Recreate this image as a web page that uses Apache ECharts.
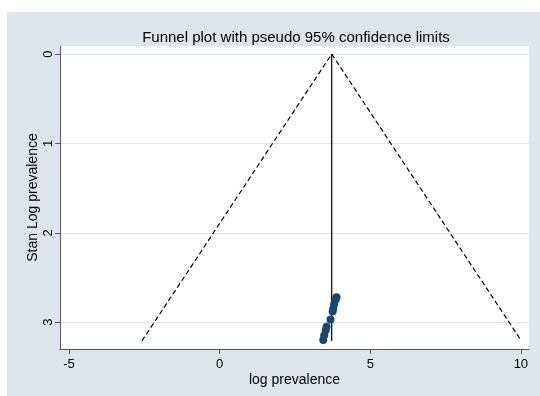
<!DOCTYPE html>
<html>
<head>
<meta charset="utf-8">
<script src="https://cdn.jsdelivr.net/npm/echarts@6/dist/echarts.min.js"></script>
<style>
  html, body { margin: 0; padding: 0; background: #fff; }
  #chart { width: 540px; height: 396px; }
</style>
</head>
<body>
<div id="chart"></div>
<script>
// studies: log prevalence (x) vs standard error (y)
var logPrev = [3.88, 3.85, 3.80, 3.77, 3.75, 3.68, 3.55, 3.52, 3.47, 3.44];
var stanLog = [2.72, 2.75, 2.80, 2.85, 2.88, 2.97, 3.05, 3.09, 3.15, 3.20];

// pooled estimate and pseudo 95% limits
var pooled = 3.72;
var funnelX = [-2.58, 3.72, 10.02];
var funnelY = [3.21, 0, 3.21];
var centreY = [0, 3.21];

var xTicks = [-5, 0, 5, 10];
var yTicks = [0, 1, 2, 3];

var points = logPrev.map(function (v, i) { return [v, stanLog[i]]; });
var funnel = funnelX.map(function (v, i) { return [v, funnelY[i]]; });
var centre = centreY.map(function (v) { return [pooled, v]; });

var chart = echarts.init(document.getElementById('chart'));
var font = 'Liberation Sans, Arial, sans-serif';

var option = {
    animation: false,
    textStyle: { fontFamily: font },
    graphic: [{
        type: 'rect',
        left: 7, top: 12,
        shape: { width: 533, height: 384 },
        style: { fill: '#dfe6eb' },
        z: -10
    }],
    title: {
        text: 'Funnel plot with pseudo 95% confidence limits',
        left: 291, top: 25,
        textAlign: 'center',
        textStyle: { fontFamily: font, fontSize: 15, fontWeight: 'normal', color: '#000' }
    },
    grid: {
        left: 60, right: 11, top: 46, bottom: 47,
        show: true, backgroundColor: '#fff', borderWidth: 0
    },
    xAxis: {
        type: 'value',
        min: -5.3, max: 10.27,
        name: 'log prevalence',
        nameLocation: 'middle',
        nameGap: 24,
        nameMoveOverlap: false,
        nameTextStyle: { fontFamily: font, fontSize: 14, color: '#000' },
        axisLine: { show: true, onZero: false, lineStyle: { color: '#555', width: 1 } },
        axisTick: { show: true, length: 5, customValues: xTicks, lineStyle: { color: '#555' } },
        axisLabel: { customValues: xTicks, fontSize: 13, color: '#000', margin: 9 },
        splitLine: { show: false }
    },
    yAxis: {
        type: 'value',
        inverse: true,
        min: -0.09, max: 3.3,
        name: 'Stan Log prevalence',
        nameLocation: 'middle',
        nameGap: 20,
        nameMoveOverlap: false,
        nameTextStyle: { fontFamily: font, fontSize: 14, color: '#000' },
        axisLine: { show: true, onZero: false, lineStyle: { color: '#555', width: 1 } },
        axisTick: { show: true, length: 5, customValues: yTicks, lineStyle: { color: '#555' } },
        axisLabel: { customValues: yTicks, rotate: 90, fontSize: 13, color: '#000', margin: 5 },
        splitLine: { show: true, lineStyle: { color: '#dfe6eb', width: 1 } }
    },
    series: [
        {
            type: 'line',
            data: funnel,
            symbol: 'none',
            lineStyle: { color: '#000', width: 1.2, type: [5, 3] },
            z: 3
        },
        {
            type: 'line',
            data: centre,
            symbol: 'none',
            lineStyle: { color: '#000', width: 1.2 },
            z: 3
        },
        {
            type: 'scatter',
            data: points,
            symbol: 'circle',
            symbolSize: 8,
            itemStyle: { color: '#1a476f', opacity: 1 },
            z: 4
        }
    ]
};
chart.setOption(option);
</script>
</body>
</html>
